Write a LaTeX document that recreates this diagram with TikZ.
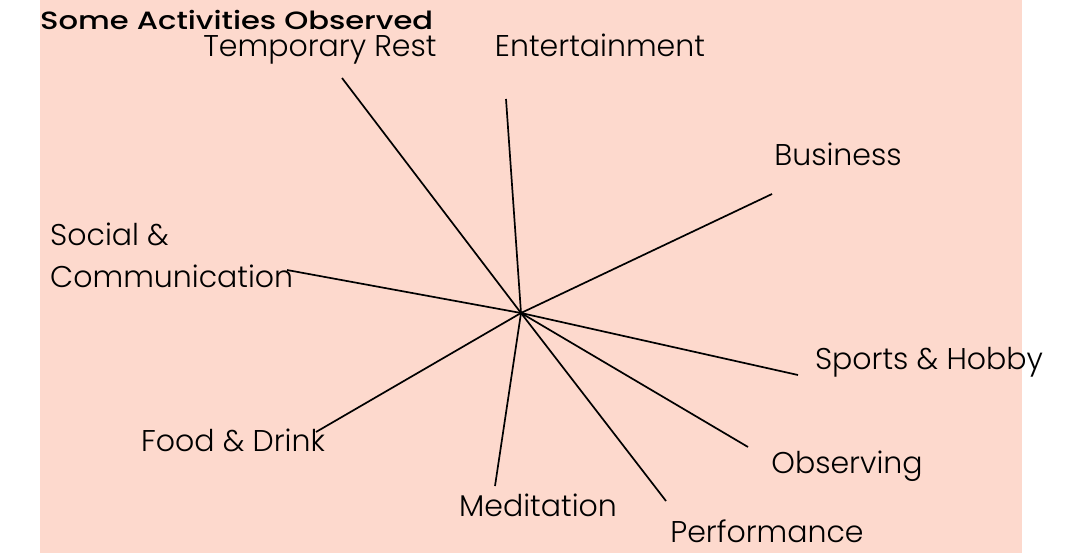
\documentclass[tikz,border=0pt]{standalone}
\usepackage{fontspec}
\usepackage{graphicx}
\IfFontExistsTF{Poppins Light}{\newfontfamily\lblfont{Poppins Light}}{\newfontfamily\lblfont{Poppins}}
\IfFontExistsTF{Poppins Medium}{\newfontfamily\ttlfont{Poppins Medium}}{\newfontfamily\ttlfont{Poppins}}
\definecolor{peach}{RGB}{253,217,205}
\begin{document}
\begin{tikzpicture}[x=1pt,y=-1pt,
  lbl/.style={inner sep=0pt,anchor=base,font=\lblfont\fontsize{30}{36}\selectfont},
  spoke/.style={line width=1.7pt,black}]
\useasboundingbox (0,0) rectangle (1067,553);
\fill[peach] (40,0) rectangle (1022,553);
\coordinate (c) at (521,313);
\coordinate (eTR) at (342,78);
\coordinate (eEN) at (506,99);
\coordinate (eBU) at (772,194);
\coordinate (eSC) at (287,270);
\coordinate (eSH) at (798,375);
\coordinate (eFD) at (316,432);
\coordinate (eME) at (495,486);
\coordinate (ePE) at (666,501);
\coordinate (eOB) at (748,447);
\foreach \e in {eTR,eEN,eBU,eSC,eSH,eFD,eME,ePE,eOB} \draw[spoke] (c) -- (\e);
\node[lbl] (tTR) at (320,57) {Temporary Rest};
\node[lbl] (tEN) at (600,57) {Entertainment};
\node[lbl] (tBU) at (838,166) {Business};
\node[lbl,anchor=base west,align=left] (tSC) at (50,287) {Social \&\\[5pt]Communication};
\node[lbl] (tSH) at (929,369) {Sports \& Hobby};
\node[lbl] (tFD) at (233,451) {Food \& Drink};
\node[lbl] (tME) at (538,516) {Meditation};
\node[lbl] (tPE) at (767,542) {Performance};
\node[lbl] (tOB) at (847,473) {Observing};
\node[inner sep=0pt,anchor=base west,font=\ttlfont\fontsize{25}{30}\selectfont] (title) at (40,30) {\resizebox{393pt}{\height}{Some Activities Observed}};
\end{tikzpicture}
\end{document}
